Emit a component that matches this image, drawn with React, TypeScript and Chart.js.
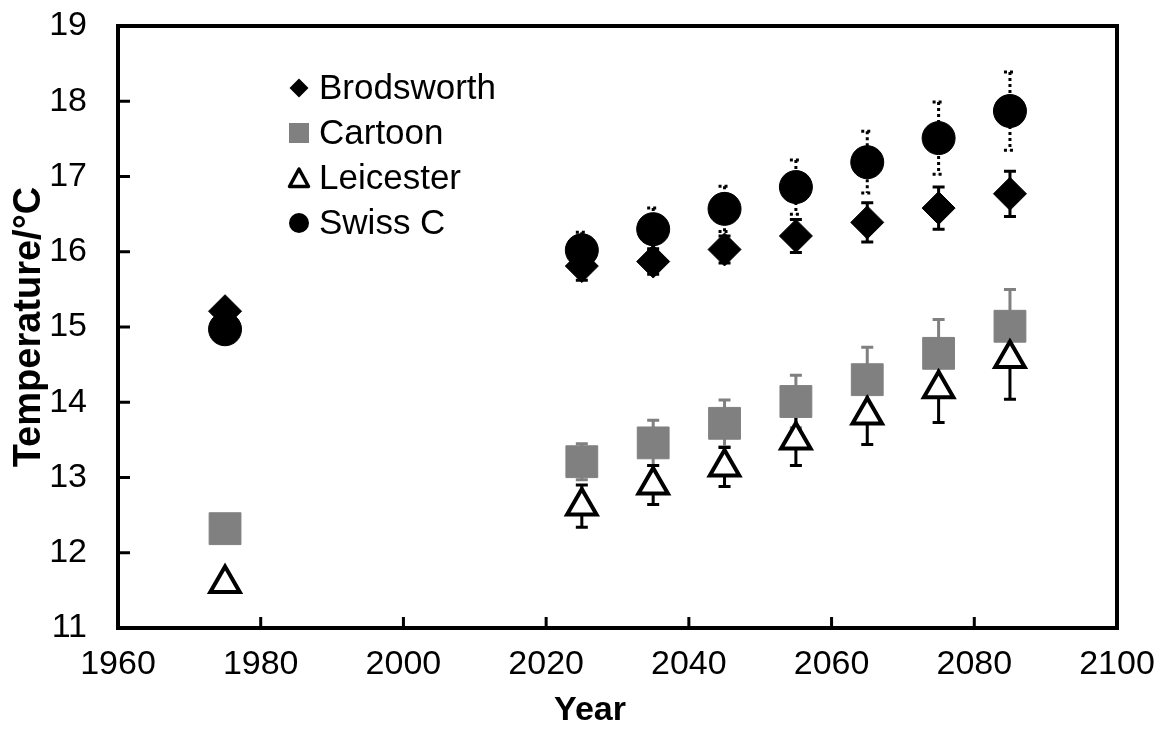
import React, { useEffect, useRef } from 'react';
import { Chart, registerables } from 'chart.js';

Chart.register(...registerables);

// ---- data ----
const years = [1975, 2025, 2035, 2045, 2055, 2065, 2075, 2085];
const brodsworth = [15.21, 15.81, 15.87, 16.03, 16.21, 16.39, 16.58, 16.77];
const brodsworthErr = [0, 0.19, 0.17, 0.18, 0.22, 0.26, 0.28, 0.3];
const cartoon = [12.32, 13.21, 13.46, 13.72, 14.01, 14.3, 14.65, 15.01];
const cartoonErr = [0, 0.24, 0.3, 0.31, 0.35, 0.43, 0.45, 0.49];
const leicester = [11.59, 12.62, 12.9, 13.14, 13.5, 13.83, 14.18, 14.58];
const leicesterErr = [0, 0.28, 0.26, 0.26, 0.34, 0.39, 0.45, 0.54];
const swissC = [14.97, 16.02, 16.3, 16.57, 16.86, 17.19, 17.51, 17.87];
const swissCErr = [0, 0.24, 0.28, 0.3, 0.36, 0.41, 0.48, 0.52];

const seriesNames = ['Brodsworth', 'Cartoon', 'Leicester', 'Swiss C'];
const xTicks = [1960, 1980, 2000, 2020, 2040, 2060, 2080, 2100];
const yTicks = [11, 12, 13, 14, 15, 16, 17, 18, 19];
const xTitle = 'Year';
const yTitle = 'Temperature/°C';

const FONT = 'Arial, "Liberation Sans", sans-serif';

const seriesValues = [brodsworth, cartoon, leicester, swissC];
const seriesErrors = [brodsworthErr, cartoonErr, leicesterErr, swissCErr];
const errStyles = [
  { color: '#000000', width: 3, dash: [] as number[] },
  { color: '#808080', width: 3, dash: [] as number[] },
  { color: '#000000', width: 3, dash: [] as number[] },
  { color: '#000000', width: 3, dash: [3, 3] },
];
const legendKinds = ['diamond', 'square', 'triangle', 'circle'];

const errorBarPlugin = {
  id: 'errorBars',
  beforeDatasetsDraw(chart: any) {
    const ctx = chart.ctx;
    const xs = chart.scales.x;
    const ys = chart.scales.y;
    seriesValues.forEach((vals, i) => {
      const errs = seriesErrors[i];
      const st = errStyles[i];
      ctx.save();
      ctx.strokeStyle = st.color;
      ctx.lineWidth = st.width;
      ctx.setLineDash(st.dash);
      vals.forEach((v: number, k: number) => {
        const e = errs[k];
        if (!e) return;
        const px = xs.getPixelForValue(years[k]);
        const yt = ys.getPixelForValue(v + e);
        const yb = ys.getPixelForValue(v - e);
        ctx.beginPath();
        ctx.moveTo(px, yt);
        ctx.lineTo(px, yb);
        ctx.moveTo(px - 6, yt);
        ctx.lineTo(px + 6, yt);
        ctx.moveTo(px - 6, yb);
        ctx.lineTo(px + 6, yb);
        ctx.stroke();
      });
      ctx.restore();
    });
  },
};

function drawLegendMarker(ctx: CanvasRenderingContext2D, kind: string, x: number, y: number) {
  ctx.save();
  ctx.beginPath();
  if (kind === 'diamond') {
    const r = 9.5;
    ctx.moveTo(x, y - r);
    ctx.lineTo(x + r, y);
    ctx.lineTo(x, y + r);
    ctx.lineTo(x - r, y);
    ctx.closePath();
    ctx.fillStyle = '#000';
    ctx.fill();
  } else if (kind === 'square') {
    ctx.fillStyle = '#808080';
    ctx.fillRect(x - 10, y - 10, 20, 20);
  } else if (kind === 'triangle') {
    ctx.moveTo(x, y - 9);
    ctx.lineTo(x + 9.5, y + 8.5);
    ctx.lineTo(x - 9.5, y + 8.5);
    ctx.closePath();
    ctx.fillStyle = '#fff';
    ctx.fill();
    ctx.lineWidth = 3.5;
    ctx.lineJoin = 'round';
    ctx.strokeStyle = '#000';
    ctx.stroke();
  } else {
    ctx.arc(x, y, 10, 0, Math.PI * 2);
    ctx.fillStyle = '#000';
    ctx.fill();
  }
  ctx.restore();
}

const frameAndLegendPlugin = {
  id: 'frameAndLegend',
  afterDraw(chart: any) {
    const ctx = chart.ctx;
    const { left, right, top, bottom } = chart.chartArea;
    const xs = chart.scales.x;
    const ys = chart.scales.y;
    ctx.save();
    ctx.strokeStyle = '#000';
    ctx.lineWidth = 3;
    ctx.beginPath();
    yTicks.forEach((v) => {
      const py = ys.getPixelForValue(v);
      ctx.moveTo(left, py);
      ctx.lineTo(left + 12, py);
    });
    xTicks.forEach((v) => {
      const px = xs.getPixelForValue(v);
      ctx.moveTo(px, bottom);
      ctx.lineTo(px, bottom - 11);
    });
    ctx.stroke();
    ctx.lineWidth = 4;
    ctx.strokeRect(left, top, right - left, bottom - top);

    // x-axis title (centred on the whole figure, as in the reference)
    ctx.font = `bold 34px ${FONT}`;
    ctx.fillStyle = '#000';
    ctx.textAlign = 'center';
    ctx.textBaseline = 'middle';
    ctx.fillText(xTitle, 590, 711);

    // legend
    const lx = 299;
    const rows = [88, 133, 178, 223];
    ctx.font = `35px ${FONT}`;
    ctx.textBaseline = 'middle';
    ctx.textAlign = 'left';
    seriesNames.forEach((name, i) => {
      drawLegendMarker(ctx, legendKinds[i], lx, rows[i]);
      ctx.fillStyle = '#000';
      ctx.fillText(name, lx + 20, rows[i] + 1);
    });
    ctx.restore();
  },
};

export default function App() {
  const ref = useRef<HTMLCanvasElement | null>(null);

  useEffect(() => {
    if (!ref.current) return;
    const toPts = (arr: number[]) => years.map((x, i) => ({ x, y: arr[i] }));
    const chart = new Chart(ref.current, {
      type: 'scatter',
      data: {
        datasets: [
          {
            label: seriesNames[0],
            data: toPts(brodsworth),
            pointStyle: 'rectRot',
            pointRadius: 16.5,
            backgroundColor: '#000',
            borderColor: '#000',
            borderWidth: 1,
            order: 4,
          },
          {
            label: seriesNames[1],
            data: toPts(cartoon),
            pointStyle: 'rect',
            pointRadius: 22.5,
            backgroundColor: '#808080',
            borderColor: '#808080',
            borderWidth: 1,
            order: 3,
          },
          {
            label: seriesNames[2],
            data: toPts(leicester),
            pointStyle: 'triangle',
            pointRadius: 17,
            backgroundColor: '#fff',
            borderColor: '#000',
            borderWidth: 4,
            order: 2,
          },
          {
            label: seriesNames[3],
            data: toPts(swissC),
            pointStyle: 'circle',
            pointRadius: 16.5,
            backgroundColor: '#000',
            borderColor: '#000',
            borderWidth: 1,
            order: 1,
          },
        ],
      },
      options: {
        responsive: false,
        animation: false,
        events: [],
        layout: { padding: { top: 26, right: 54, left: 0, bottom: 0 } },
        plugins: {
          legend: { display: false },
          tooltip: { enabled: false },
        },
        scales: {
          x: {
            type: 'linear',
            min: 1960,
            max: 2100,
            afterBuildTicks: (s: any) => {
              s.ticks = xTicks.map((v) => ({ value: v }));
            },
            ticks: {
              font: { size: 34, family: FONT },
              color: '#000',
              padding: 16,
              maxRotation: 0,
              callback: (v: any) => String(v),
            },
            grid: { display: false, drawTicks: false },
            border: { display: false },
            title: { display: false, text: xTitle },
            afterFit: (s: any) => {
              s.height = 101;
              s.paddingLeft = 0;
              s.paddingRight = 0;
            },
          },
          y: {
            type: 'linear',
            min: 11,
            max: 19,
            afterBuildTicks: (s: any) => {
              s.ticks = yTicks.map((v) => ({ value: v }));
            },
            ticks: {
              font: { size: 34, family: FONT },
              color: '#000',
              padding: 31,
              callback: (v: any) => String(v),
            },
            grid: { display: false, drawTicks: false },
            border: { display: false },
            title: {
              display: true,
              text: yTitle,
              font: { size: 38, weight: 'bold', family: FONT },
              color: '#000',
              padding: { top: 7, bottom: 0 },
            },
            afterFit: (s: any) => {
              s.width = 118;
              s.paddingTop = 0;
              s.paddingBottom = 0;
            },
          },
        },
      },
      plugins: [errorBarPlugin, frameAndLegendPlugin],
    } as any);
    return () => chart.destroy();
  }, []);

  return (
    <div style={{ position: 'absolute', left: 0, top: 0, width: 1171, height: 729, background: '#fff' }}>
      <canvas ref={ref} width={1171} height={729} style={{ display: 'block' }} />
    </div>
  );
}
